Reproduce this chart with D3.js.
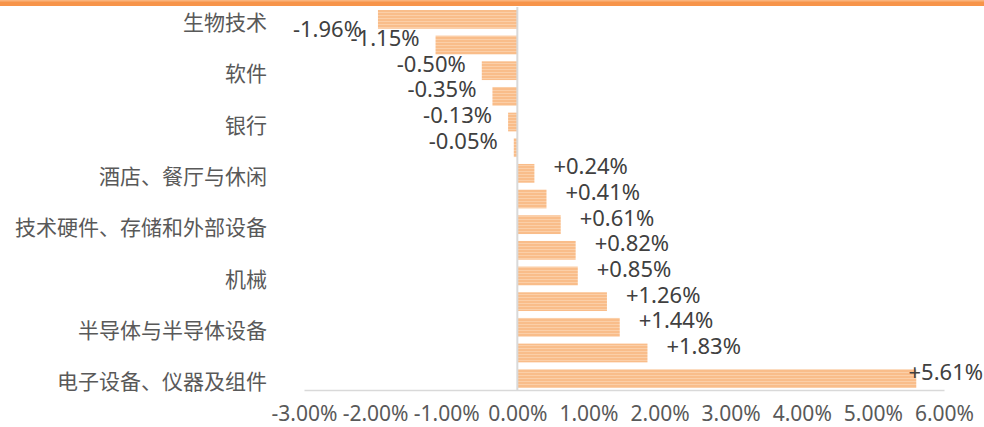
<!DOCTYPE html>
<html>
<head>
<meta charset="utf-8">
<script src="https://cdn.jsdelivr.net/npm/d3@7"></script>
<style>
  body { margin: 0; background: #fff; }
  svg { display: block; }
</style>
</head>
<body>
<div id="chart"></div>
<script>
// only every second bar carries a category label
const categories = ['生物技术', '软件', '银行', '酒店、餐厅与休闲', '技术硬件、存储和外部设备',
    '机械', '半导体与半导体设备', '电子设备、仪器及组件'];
const values = [-1.96, -1.15, -0.50, -0.35, -0.13, -0.05, 0.24, 0.41, 0.61, 0.82, 0.85, 1.26, 1.44, 1.83, 5.61];
const tickValues = [-3, -2, -1, 0, 1, 2, 3, 4, 5, 6];

const width = 984, height = 427;
const numFont = '"Noto Sans", "DejaVu Sans", sans-serif';
const cjkFont = '"Noto Sans CJK SC", "Noto Sans", sans-serif';

const svg = d3.select('#chart')
    .append('svg')
    .attr('width', width)
    .attr('height', height);

// striped bar fill
const pat = svg.append('defs').append('pattern')
    .attr('id', 'stripe')
    .attr('patternUnits', 'userSpaceOnUse')
    .attr('width', 6)
    .attr('height', 3);
pat.append('rect').attr('width', 6).attr('height', 3).attr('fill', '#f9bd8a');
pat.append('rect').attr('width', 6).attr('height', 1).attr('fill', '#fbcfa8');

// orange rule along the top
svg.append('rect').attr('x', 0).attr('y', 0).attr('width', width).attr('height', 6).attr('fill', '#f7944a');
svg.append('rect').attr('x', 0).attr('y', 0).attr('width', width).attr('height', 1.5).attr('fill', '#fab37c');

const x = d3.scaleLinear()
    .domain([-3, 6])
    .range([304, 944]);

const y = d3.scaleBand()
    .domain(d3.range(values.length))
    .range([6.4, 391.6])
    .paddingInner(0.27)
    .paddingOuter(0.14);

// bars
svg.append('g')
    .selectAll('rect')
    .data(values)
    .join('rect')
    .attr('x', d => x(Math.min(0, d)))
    .attr('y', (d, i) => y(i))
    .attr('width', d => Math.abs(x(d) - x(0)))
    .attr('height', y.bandwidth())
    .attr('fill', 'url(#stripe)');

// zero line
svg.append('line')
    .attr('x1', x(0)).attr('x2', x(0))
    .attr('y1', 7).attr('y2', 390)
    .attr('stroke', '#d9d9d9')
    .attr('stroke-width', 2);

// x axis
const xAxis = svg.append('g')
    .attr('transform', 'translate(0, 390)')
    .call(d3.axisBottom(x)
        .tickValues(tickValues)
        .tickSize(0)
        .tickFormat(d => (d < 0 ? '-' : '') + Math.abs(d).toFixed(2) + '%'));
xAxis.select('.domain').attr('stroke', '#d9d9d9').attr('stroke-width', 1.5);
xAxis.selectAll('text')
    .attr('y', 31)
    .attr('dy', 0)
    .attr('fill', '#595959')
    .attr('font-family', numFont)
    .attr('font-size', 21);

// category axis
const yAxis = svg.append('g')
    .attr('transform', 'translate(267, 0)')
    .call(d3.axisLeft(y)
        .tickSize(0)
        .tickPadding(0)
        .tickFormat(i => i % 2 === 0 ? categories[i / 2] : ''));
yAxis.select('.domain').remove();
yAxis.selectAll('text')
    .attr('y', 4)
    .attr('fill', '#595959')
    .attr('font-family', cjkFont)
    .attr('font-size', 21);

// value labels
const fmt = d => (d > 0 ? '+' : '') + d.toFixed(2) + '%';
const labels = svg.append('g')
    .selectAll('text')
    .data(values)
    .join('text')
    .attr('font-family', numFont)
    .attr('font-size', 22)
    .attr('fill', '#404040')
    .attr('dominant-baseline', 'central')
    .attr('text-anchor', d => d < 0 ? 'end' : 'start')
    .text(fmt);

labels.each(function (d, i) {
    const w = this.getComputedTextLength();
    const yc = y(i) + y.bandwidth() / 2;
    let ly = yc - 8;
    if (ly - 11 < 8) ly = yc + 8.5;   // pushed below when it would hit the top
    let lx;
    if (d < 0) {
        lx = x(d) - 16;
    } else {
        lx = Math.min(x(d) + 19, width - w - 1);
    }
    d3.select(this).attr('x', lx).attr('y', ly);
});
</script>
</body>
</html>
